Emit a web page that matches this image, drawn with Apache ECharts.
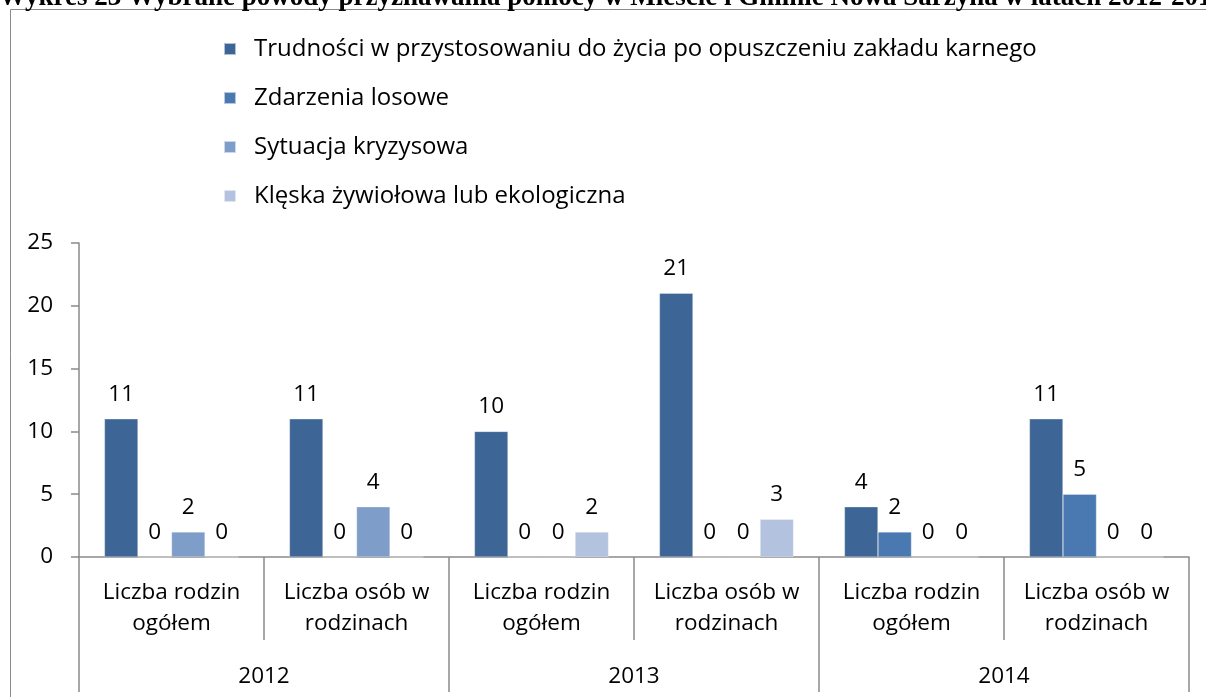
<!DOCTYPE html>
<html>
<head>
<meta charset="utf-8">
<script src="https://cdn.jsdelivr.net/npm/echarts@6/dist/echarts.min.js"></script>
<style>
html,body{margin:0;padding:0;background:#fff;overflow:hidden;}
#chart{width:1206px;height:697px;}
</style>
</head>
<body>
<div id="chart"></div>
<script>
const titleText = "Wykres 23 Wybrane powody przyznawania pomocy w Mieście i Gminie Nowa Sarzyna w latach 2012-2014";
const categories = ["Liczba rodzin\nogółem", "Liczba osób w\nrodzinach", "Liczba rodzin\nogółem", "Liczba osób w\nrodzinach", "Liczba rodzin\nogółem", "Liczba osób w\nrodzinach"];
const years = ["2012", "2013", "2014"];
const seriesNames = [
  "Trudności w przystosowaniu do życia po opuszczeniu zakładu karnego",
  "Zdarzenia losowe",
  "Sytuacja kryzysowa",
  "Klęska żywiołowa lub ekologiczna"
];
const trudnosci = [11, 11, 10, 21, 4, 11];
const zdarzenia = [0, 0, 0, 0, 2, 5];
const kryzysowa = [2, 4, 0, 0, 0, 0];
const kleska = [0, 0, 2, 3, 0, 0];
const yTicks = {min: 0, max: 25, interval: 5};

const colors = ["#3D6596", "#4A79B1", "#7F9DC9", "#B3C3DF"];
const FONT = "'Open Sans', 'Noto Sans', sans-serif";
const values = [trudnosci, zdarzenia, kryzysowa, kleska];

const chart = echarts.init(document.getElementById('chart'), null, {renderer: 'canvas'});
chart.setOption({
  animation: false,
  backgroundColor: '#fff',
  color: colors,
  graphic: [
    {type: 'polyline', shape: {points: [[10.5, 720], [10.5, 9.5], [1300, 9.5]]}, style: {fill: null, stroke: '#8a8a8a', lineWidth: 1}, silent: true},
    {type: 'text', x: -1, y: -15, style: {text: titleText, font: "bold 27px 'Liberation Serif', serif", fill: '#000'}, silent: true}
  ],
  legend: {
    orient: 'vertical',
    left: 218,
    top: 32,
    itemWidth: 12,
    itemHeight: 12,
    itemGap: 25,
    icon: 'rect',
    textStyle: {fontFamily: FONT, fontSize: 24, color: '#000', lineHeight: 24, padding: [0, 0, 0, 13]},
    data: seriesNames
  },
  grid: {left: 79, right: 17, top: 243, bottom: 140, containLabel: false},
  xAxis: [
    {
      type: 'category',
      data: categories,
      position: 'bottom',
      axisLine: {show: true, lineStyle: {color: '#8a8a8a', width: 1.5}},
      axisTick: {show: true, interval: 0, length: 83, lineStyle: {color: '#8a8a8a', width: 1.5}},
      axisLabel: {interval: 0, margin: 20, fontFamily: FONT, fontSize: 22.5, color: '#000', lineHeight: 31},
      splitLine: {show: false}
    },
    {
      type: 'category',
      data: years,
      position: 'bottom',
      gridIndex: 0,
      axisLine: {show: false},
      axisTick: {show: true, interval: 0, length: 135, lineStyle: {color: '#8a8a8a', width: 1.5}},
      axisLabel: {interval: 0, margin: 108, fontFamily: FONT, fontSize: 22.5, color: '#000', lineHeight: 24},
      splitLine: {show: false}
    }
  ],
  yAxis: {
    type: 'value',
    min: yTicks.min,
    max: yTicks.max,
    interval: yTicks.interval,
    axisLine: {show: true, lineStyle: {color: '#8a8a8a', width: 1.5}},
    axisTick: {show: true, length: 8, lineStyle: {color: '#8a8a8a', width: 1.5}},
    axisLabel: {margin: 26, fontFamily: FONT, fontSize: 22.5, color: '#000'},
    splitLine: {show: false}
  },
  series: seriesNames.map((name, i) => ({
    name: name,
    type: 'bar',
    xAxisIndex: 0,
    data: values[i],
    barGap: '0%',
    barCategoryGap: '27.5%',
    itemStyle: {color: colors[i], borderColor: 'rgba(255,255,255,0.6)', borderWidth: 0.5},
    label: {show: true, position: 'top', distance: 13, fontFamily: FONT, fontSize: 22.5, color: '#000'}
  }))
});
</script>
</body>
</html>
